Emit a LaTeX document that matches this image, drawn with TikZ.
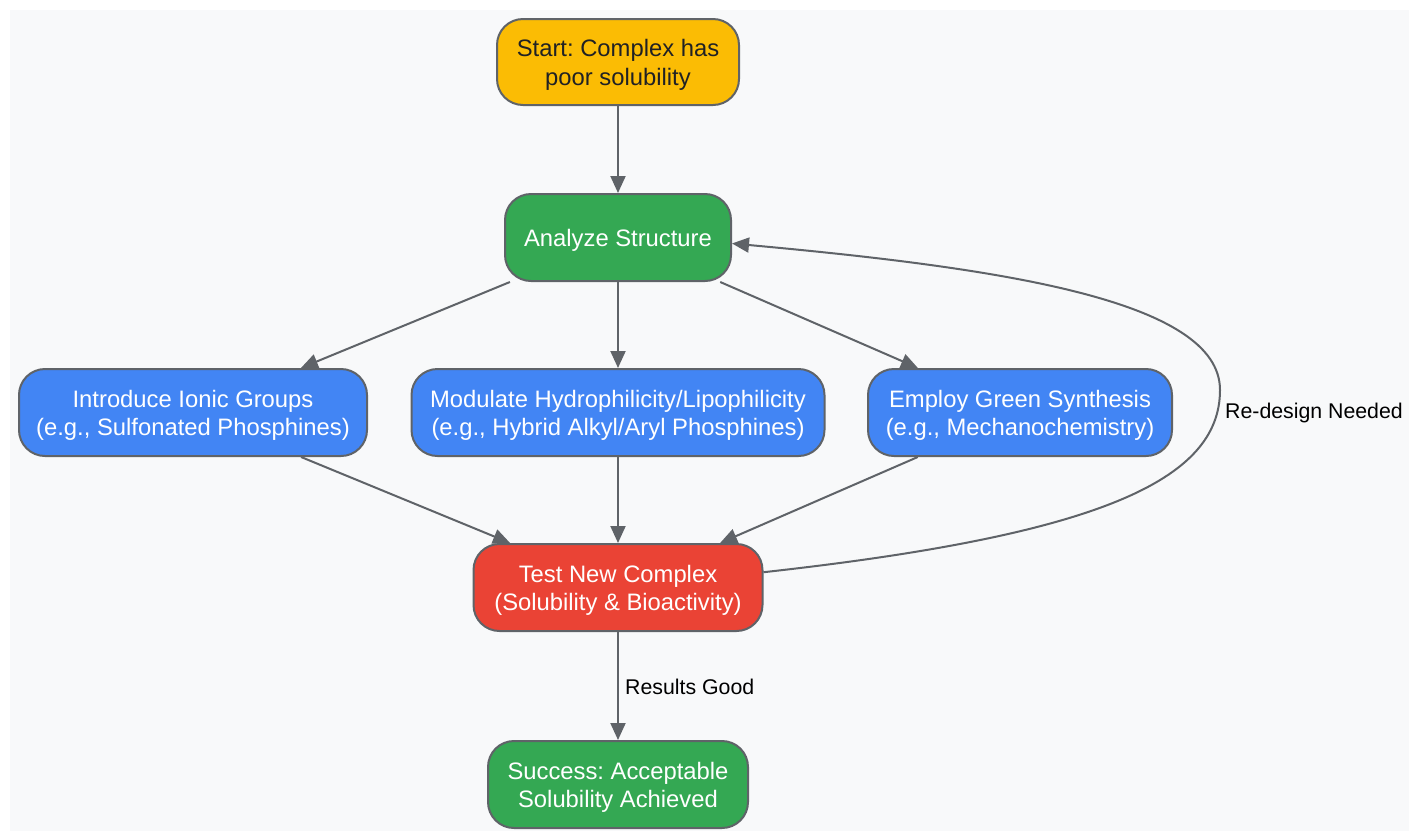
\documentclass[tikz,border=0pt]{standalone}
\usepackage{fontspec}
\setmainfont{Liberation Sans}
\frenchspacing
\usetikzlibrary{arrows.meta}
\definecolor{bgc}{HTML}{F8F9FA}
\definecolor{edgec}{HTML}{5F6368}
\definecolor{yel}{HTML}{FBBC04}
\definecolor{grn}{HTML}{34A853}
\definecolor{blu}{HTML}{4285F4}
\definecolor{redc}{HTML}{EA4335}
\definecolor{darktext}{HTML}{202124}
\tikzset{
  box/.style={rectangle, rounded corners=26pt, draw=edgec, line width=2pt,
    inner sep=0pt, minimum height=87pt},
  boxtext/.style={align=center, inner sep=0pt, yshift=-3pt,
    font=\fontsize{23.8}{28.5}\selectfont, text=white},
  conn/.style={draw=edgec, line width=2pt, -{Triangle[length=17pt,width=15pt]}},
  lbl/.style={font=\fontsize{21.3}{25}\selectfont, text=black, anchor=west, inner sep=0pt}
}
\begin{document}
\begin{tikzpicture}[x=1pt,y=-1pt]
\useasboundingbox (0,0) rectangle (1409,831);
\fill[bgc] (10,10) rectangle (1409,831);
\node[box, fill=yel, minimum width=242pt, minimum height=86pt,
  label={[boxtext, text=darktext]center:{Start: Complex has\\poor solubility}}] (start) at (618,62) {};
\node[box, fill=grn, minimum width=226pt,
  label={[boxtext]center:{Analyze Structure}}] (analyze) at (618,237.5) {};
\node[box, fill=blu, minimum width=348pt,
  label={[boxtext]center:{Introduce Ionic Groups\\(e.g., Sulfonated Phosphines)}}] (ionic) at (193,412.5) {};
\node[box, fill=blu, minimum width=413pt,
  label={[boxtext]center:{Modulate Hydrophilicity/Lipophilicity\\(e.g., Hybrid Alkyl/Aryl Phosphines)}}] (modulate) at (618,412.5) {};
\node[box, fill=blu, minimum width=304pt,
  label={[boxtext]center:{Employ Green Synthesis\\(e.g., Mechanochemistry)}}] (green) at (1020,412.5) {};
\node[box, fill=redc, minimum width=289pt,
  label={[boxtext]center:{Test New Complex\\(Solubility \& Bioactivity)}}] (test) at (618,587.5) {};
\node[box, fill=grn, minimum width=260pt,
  label={[boxtext]center:{Success: Acceptable\\Solubility Achieved}}] (success) at (618,784.5) {};

\draw[conn] (start) -- (analyze);
\draw[conn] (analyze) -- (ionic);
\draw[conn] (analyze) -- (modulate);
\draw[conn] (analyze) -- (green);
\draw[conn] (ionic) -- (test);
\draw[conn] (modulate) -- (test);
\draw[conn] (green) -- (test);
\draw[conn] (test) -- (success);
\draw[conn] (test.6) .. controls (1100,535) and (1220,480) .. (1220,390)
  .. controls (1220,300) and (1000,268) .. (analyze.-3);
\node[lbl] (lredesign) at (1225,413) {Re-design Needed};
\node[lbl] (lgood) at (625,687) {Results Good};
\end{tikzpicture}
\end{document}
